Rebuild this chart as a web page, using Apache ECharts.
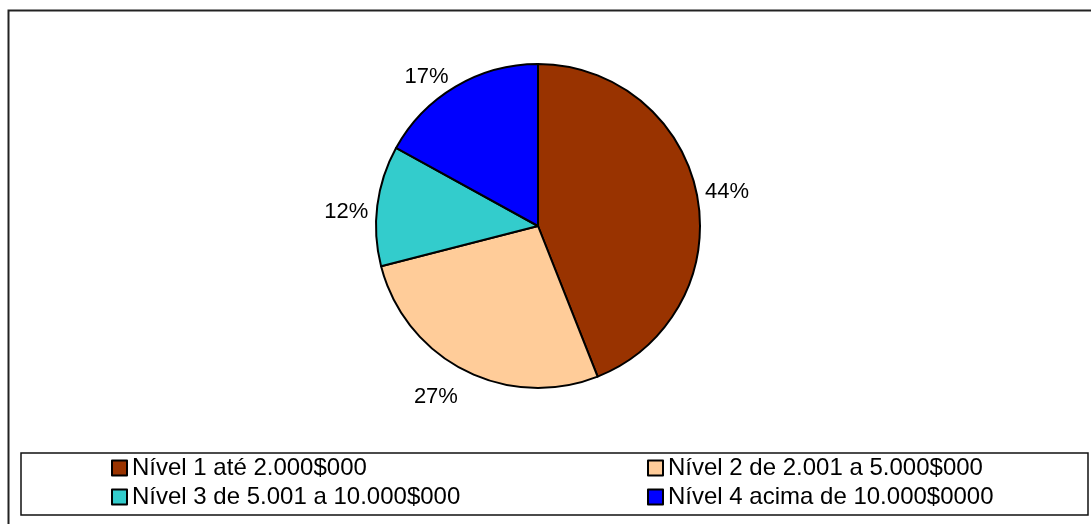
<!DOCTYPE html>
<html>
<head>
<meta charset="utf-8">
<script src="https://cdn.jsdelivr.net/npm/echarts@6/dist/echarts.min.js"></script>
<style>
    html, body { margin: 0; padding: 0; background: #fff; }
    #chart { width: 1091px; height: 524px; }
</style>
</head>
<body>
<div id="chart"></div>
<script>
    // categorias e valores (percentagens)
    var categories = ['Nível 1 até 2.000$000', 'Nível 2 de 2.001 a 5.000$000', 'Nível 3 de 5.001 a 10.000$000', 'Nível 4 acima de 10.000$0000'];
    var values = [44, 27, 12, 17];
    var colors = ['#993300', '#FFCC99', '#33CCCC', '#0000FF'];

    var myChart = echarts.init(document.getElementById('chart'));

    // uma legenda por item, para posicionar em duas colunas
    var legendPos = [
        { left: 111, top: 455 },
        { left: 647, top: 455 },
        { left: 111, top: 484 },
        { left: 647, top: 484 }
    ];
    // ajuste fino dos rótulos (o Excel não os põe todos à mesma distância)
    var labelOffset = [[-7, -2], [3, 18], [6, 7], [3, -1]];

    var legends = categories.map(function (name, i) {
        return {
            data: [name],
            left: legendPos[i].left,
            top: legendPos[i].top,
            padding: 0,
            icon: 'rect',
            itemWidth: 15,
            itemHeight: 15,
            itemGap: 0,
            selectedMode: false,
            textStyle: {
                fontFamily: 'Liberation Sans',
                fontSize: 24,
                color: '#000',
                lineHeight: 26,
                padding: [0, 0, 0, 0]
            }
        };
    });

    myChart.setOption({
        animation: false,
        legend: legends,
        graphic: [
            { // moldura exterior
                type: 'rect',
                shape: { x: 8.5, y: 10.5, width: 1200, height: 600 },
                style: { fill: 'none', stroke: '#222', lineWidth: 2 }
            },
            { // caixa da legenda
                type: 'rect',
                shape: { x: 21, y: 453, width: 1067, height: 62 },
                style: { fill: 'none', stroke: '#111', lineWidth: 1.5 }
            }
        ],
        series: [{
            type: 'pie',
            center: [538, 226],
            radius: 162,
            startAngle: 90,
            clockwise: true,
            avoidLabelOverlap: false,
            data: categories.map(function (name, i) {
                return {
                    name: name,
                    value: values[i],
                    itemStyle: { color: colors[i] },
                    label: { offset: labelOffset[i] }
                };
            }),
            itemStyle: { borderColor: '#000', borderWidth: 2 },
            label: {
                position: 'outside',
                formatter: '{c}%',
                fontFamily: 'Liberation Sans',
                fontSize: 22,
                color: '#000'
            },
            labelLine: { show: false, length: 10, length2: 0 },
            emphasis: { disabled: true }
        }]
    });
</script>
</body>
</html>
